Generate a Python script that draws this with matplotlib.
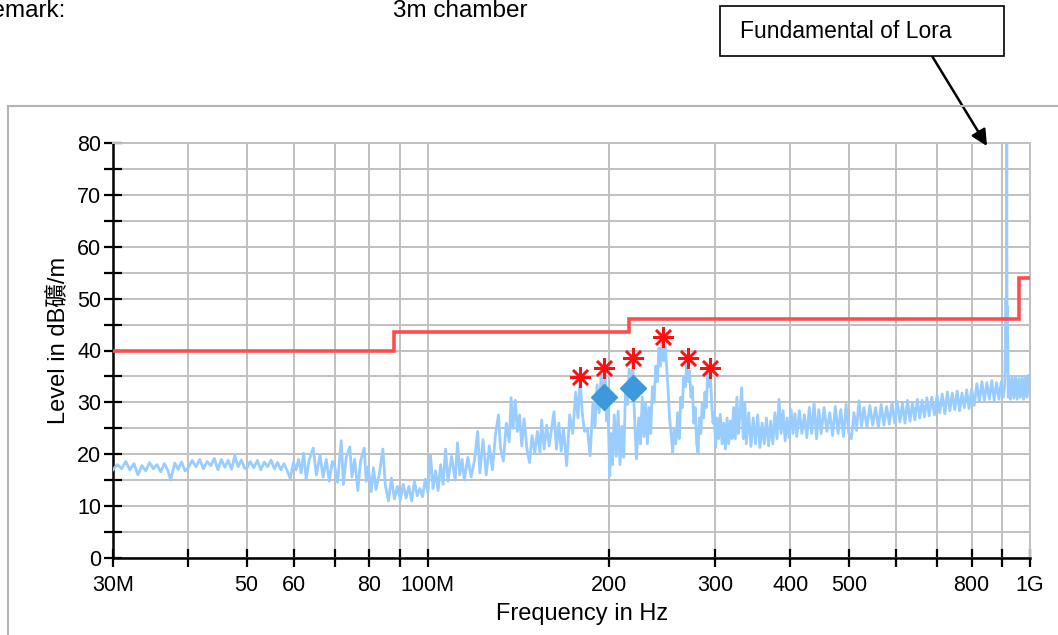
import numpy as np
import matplotlib
matplotlib.use('Agg')
import matplotlib.pyplot as plt
from matplotlib.patches import Rectangle
from matplotlib.ticker import MultipleLocator

plt.rcParams['font.family'] = ['Liberation Sans', 'Noto Sans CJK TC', 'DejaVu Sans']

trace = [
    (30, 17.0), (30.5, 18.0), (31, 17.2), (31.5, 18.6), (32, 17.0), (32.5, 18.2), (33, 16.0), (33.5, 17.8),
    (34, 16.8), (34.5, 18.4), (35, 17.2), (35.5, 18.0), (36, 16.6), (36.5, 18.2), (37, 16.9), (37.4, 15.0),
    (38, 18.3), (38.5, 17.1), (39, 18.5), (39.5, 16.8),
    (40, 17.4), (40.6, 18.8), (41.2, 17.6), (41.8, 19.0), (42.4, 17.2), (43, 18.6), (43.6, 17.8), (44.2, 19.2),
    (44.8, 17.0), (45.4, 19.0), (46, 17.5), (46.6, 18.8), (47.2, 17.1), (47.8, 19.7), (48.4, 17.6), (49, 18.9),
    (49.6, 17.3),
    (50, 17.2), (50.7, 18.6), (51.4, 17.4), (52.1, 18.8), (52.8, 17.0), (53.5, 18.5), (54.2, 17.6), (54.9, 18.9),
    (55.6, 17.2), (56.3, 18.4), (57, 17.0), (57.7, 18.2), (58.4, 16.8), (59.1, 15.3), (59.8, 18.4),
    (60.4, 17.0), (61.0, 19.0), (61.6, 16.4), (62.2, 20.2), (62.8, 15.2), (63.5, 18.8), (64.5, 21.2), (65.3, 16.0),
    (66.2, 19.8), (67.0, 15.6), (67.8, 19.0), (68.6, 14.8), (69.4, 18.6),
    (70, 17.8), (70.8, 14.6), (71.8, 22.6), (72.4, 14.2), (73.2, 19.4), (74.2, 21.4), (74.8, 15.6), (75.6, 19.0),
    (76.5, 13.0), (77.3, 18.6), (78.4, 21.2), (79.0, 14.8), (79.6, 17.6),
    (80.5, 12.8), (81.2, 17.4), (82, 13.2), (83, 16.0), (84.2, 21.0), (85, 14.0), (86, 11.0), (87, 15.4),
    (88, 11.4), (89, 13.8), (90, 11.2), (91, 14.2), (92, 11.6), (93, 13.8), (94, 11.0), (95, 14.8),
    (96, 12.0), (97, 13.4), (98, 11.8), (99, 15.2), (100, 12.6),
    (101, 20.0), (102, 13.4), (103, 16.8), (104, 13.0), (105, 18.0), (106, 14.2), (107, 21.0), (108, 14.8),
    (109.5, 19.6), (111, 15.0), (112, 22.2), (113, 16.0), (114, 19.0), (115, 15.0), (116.5, 19.4), (118, 15.6),
    (119.5, 18.8), (121, 24.4), (122, 16.4), (123.5, 22.8), (125, 16.0), (126.5, 21.6), (128, 17.0),
    (129.5, 23.8), (131, 27.6), (132, 21.2), (133.5, 18.7), (135, 26.0), (136.5, 22.4), (137.5, 30.9),
    (138.5, 25.0), (139.7, 30.4), (140.8, 24.4), (142, 27.6), (143.2, 21.6), (144.5, 26.8), (146, 21.3),
    (147.5, 18.4), (149, 23.6), (150.5, 20.2), (152, 24.4), (153.5, 20.4), (154.5, 26.6), (156, 21.0),
    (157.5, 25.6), (159, 21.6), (160.5, 25.0), (162, 28.2), (163.5, 21.0), (165, 26.0), (166.5, 20.6),
    (168, 25.0), (170, 17.8), (172, 27.6), (174, 24.0), (176, 32.0), (177.5, 27.0), (179, 34.2),
    (180.5, 28.0), (182, 24.4), (184, 25.0), (186, 19.7), (188, 30.0), (189.5, 25.4), (191, 33.4),
    (192.5, 28.0), (194, 35.2), (195.5, 30.0), (197, 36.0), (198, 26.4), (199, 30.2), (200.5, 15.8),
    (201.5, 24.0), (202.5, 18.0), (204, 27.6), (205.5, 19.6), (207, 28.3), (208.5, 18.0), (210, 25.4),
    (211.5, 19.4), (213, 33.0), (214.5, 29.6), (216, 36.4), (217.5, 31.0), (219, 37.6), (220, 29.6),
    (221, 24.0), (222, 19.1), (224, 27.0), (225.5, 22.0), (227, 31.0), (228.5, 23.4), (230, 30.0),
    (231.5, 22.0), (233, 29.0), (234.5, 24.0), (236, 33.0), (237.5, 30.0), (239, 37.0), (240.5, 34.0),
    (242, 40.5), (243.5, 37.0), (245, 41.8), (246.5, 38.0), (248, 40.6), (249.5, 36.0), (250.5, 32.8),
    (252, 27.0), (253.5, 24.0), (255, 20.3), (256.5, 25.0), (258, 22.0), (260, 28.0), (261.5, 23.0),
    (263, 31.0), (264.5, 29.0), (266, 35.0), (267.5, 33.0), (269, 37.3), (270.5, 34.0), (272, 36.0),
    (273.5, 31.0), (275, 33.0), (276.5, 26.0), (278, 29.0), (279.5, 22.0), (281, 20.3), (282.5, 27.0),
    (284, 24.0), (285.5, 30.0), (287, 27.0), (288.5, 32.0), (290, 29.0), (291.5, 35.4), (293, 33.0),
    (294.5, 35.8), (296, 30.0), (297.5, 26.0), (299, 28.0), (300.5, 21.3), (302, 27.0), (304, 23.0),
    (306, 27.7), (308, 22.0), (310, 26.0), (312, 21.0), (314, 27.0), (316, 22.0), (318, 26.4), (320, 23.0),
    (322, 29.0), (324, 23.0), (326, 31.0), (328, 24.0), (330, 28.0), (332, 32.8), (334, 23.0), (336, 30.0),
    (338, 22.0), (341, 28.0), (344, 21.5), (347, 27.0), (350, 22.0), (353, 27.6), (356, 21.3), (359, 26.0),
    (362, 22.0), (365, 27.0), (368, 21.6), (371, 26.4), (374, 22.0), (377, 28.0), (380, 23.0), (383, 30.6),
    (386, 24.0), (389, 28.4), (392, 22.6), (395, 27.0), (398, 23.2), (401, 28.6), (404, 24.0), (407, 27.8),
    (410, 23.4), (414, 28.4), (418, 24.0), (422, 27.6), (426, 23.2), (430, 29.0), (434, 24.0), (438, 30.0),
    (442, 23.0), (446, 28.6), (450, 24.0), (455, 29.0), (460, 24.4), (465, 28.0), (470, 23.6), (475, 29.2),
    (480, 24.0), (485, 28.6), (490, 23.4), (495, 29.6), (500, 24.0), (505, 23.0), (510, 28.0), (515, 24.6),
    (520, 30.3), (525, 25.4), (530, 29.0), (536, 25.2), (542, 29.4), (548, 25.6), (554, 29.0), (560, 25.2),
    (566, 29.6), (572, 25.6), (578, 29.2), (584, 25.8), (590, 30.0), (596, 26.0), (602, 30.2), (608, 26.2),
    (614, 29.8), (620, 26.0), (626, 30.4), (632, 26.4), (638, 30.0), (644, 26.6), (650, 30.6), (656, 27.0),
    (662, 30.4), (668, 27.2), (674, 30.9), (680, 27.4), (687, 31.0), (694, 27.6), (701, 31.4), (708, 28.0),
    (715, 31.6), (722, 27.8), (729, 32.0), (736, 28.4), (743, 31.8), (750, 28.6), (757, 32.2), (764, 28.4),
    (771, 31.8), (778, 29.0), (785, 32.4), (792, 28.8), (800, 32.6), (808, 29.4), (816, 33.6), (824, 30.2),
    (832, 34.0), (840, 30.4), (848, 33.8), (856, 30.6), (864, 34.2), (872, 30.4), (880, 33.8), (888, 30.6),
    (896, 34.0), (903, 31.0), (908, 33.5), (911, 45.0), (912.5, 50.0), (913.5, 38.0), (915, 80.0),
    (916, 36.0), (917, 48.5), (918.5, 42.0), (920, 31.0), (923, 34.6), (928, 30.6), (934, 34.8), (940, 30.8),
    (946, 35.0), (952, 30.6), (958, 34.6), (964, 31.0), (970, 35.0), (976, 30.6), (982, 34.8), (988, 31.0),
    (994, 35.2), (1000, 31.4),
]
trace_freq = [p[0] for p in trace]
trace_level = [p[1] for p in trace]

# FCC class B 限值
limit_edges = [30, 88, 216, 960, 1000]
limit_levels = [40, 43.5, 46, 54]

# 峰值点 (红色星号) 与准峰值点 (蓝色菱形)
peak_freq = [179, 196, 219, 246, 270, 294]
peak_level = [34.9, 36.6, 38.5, 42.6, 38.5, 36.6]
qp_freq = [196, 219]
qp_level = [31.0, 32.8]

x_ticks = [30, 40, 50, 60, 70, 80, 90, 100, 200, 300, 400, 500, 600, 700, 800, 900, 1000]
x_labels = ['30M', '', '50', '60', '', '80', '', '100M', '200', '300', '400', '500', '', '', '800', '', '1G']
y_ticks = [0, 10, 20, 30, 40, 50, 60, 70, 80]

W, H = 1058, 635
fig = plt.figure(figsize=(W / 100, H / 100), dpi=100)

# 外框
fig.add_artist(Rectangle((8 / W, -0.1), 1.2, 1.1 - 106 / H, transform=fig.transFigure,
                         fill=False, edgecolor='#b4b4b4', lw=1.5))

fig.text(65 / W, 1 - 17 / H, 'Remark:', ha='right', va='baseline', fontsize=17.5)
fig.text(393 / W, 1 - 17 / H, '3m chamber', ha='left', va='baseline', fontsize=17.5)

ax = fig.add_axes([113 / W, 1 - 558 / H, 917 / W, 415 / H])
ax.set_xscale('log')

ax.plot(trace_freq, trace_level, color='#99ccff', lw=2.0, zorder=3)
ax.stairs(limit_levels, limit_edges, baseline=None, color='#ff4d4d', lw=2.6, zorder=4, clip_on=False)
ax.plot(qp_freq, qp_level, ls='none', marker='D', ms=13, color='#3d98dc', zorder=5)
ax.plot(peak_freq, peak_level, ls='none', marker=(8, 2, 0), ms=15, mew=1.8, color='#ff1010', zorder=6)

ax.set_xlim(30, 1000)
ax.set_ylim(0, 80)
ax.minorticks_off()
ax.set_xticks(x_ticks)
ax.set_xticklabels(x_labels)
ax.set_yticks(y_ticks)
ax.yaxis.set_minor_locator(MultipleLocator(5))
ax.tick_params(which='both', direction='inout', length=13, width=1.6, labelsize=15.5, color='black')
ax.tick_params(axis='x', pad=6)
ax.tick_params(axis='y', pad=2)

ax.set_axisbelow(True)
ax.grid(True, which='both', color='#c0c0c0', lw=1.4)
for s in ['left', 'bottom']:
    ax.spines[s].set_linewidth(1.8)
for s in ['top', 'right']:
    ax.spines[s].set_color('#c0c0c0')
    ax.spines[s].set_linewidth(1.4)

ax.set_xlabel('Frequency in Hz', fontsize=17)
ax.xaxis.set_label_coords(0.511, -0.108)
ax.set_ylabel('Level in dB礦/m', fontsize=17)
ax.yaxis.set_label_coords(-0.047, 0.525)

# 注释框
fig.add_artist(Rectangle((720 / W, 1 - 56 / H), 284 / W, 50 / H, transform=fig.transFigure,
                         facecolor='white', edgecolor='black', lw=1.2))
fig.text(740 / W, 1 - 38 / H, 'Fundamental of Lora', ha='left', va='baseline', fontsize=16.5)
ax.annotate('', xy=(987 / W, 1 - 146 / H), xycoords='figure fraction',
            xytext=(932 / W, 1 - 56 / H), textcoords='figure fraction',
            arrowprops=dict(arrowstyle='-|>', color='black', lw=1.8, mutation_scale=24,
                            shrinkA=0, shrinkB=0))

fig.savefig('out.png', dpi=100)
